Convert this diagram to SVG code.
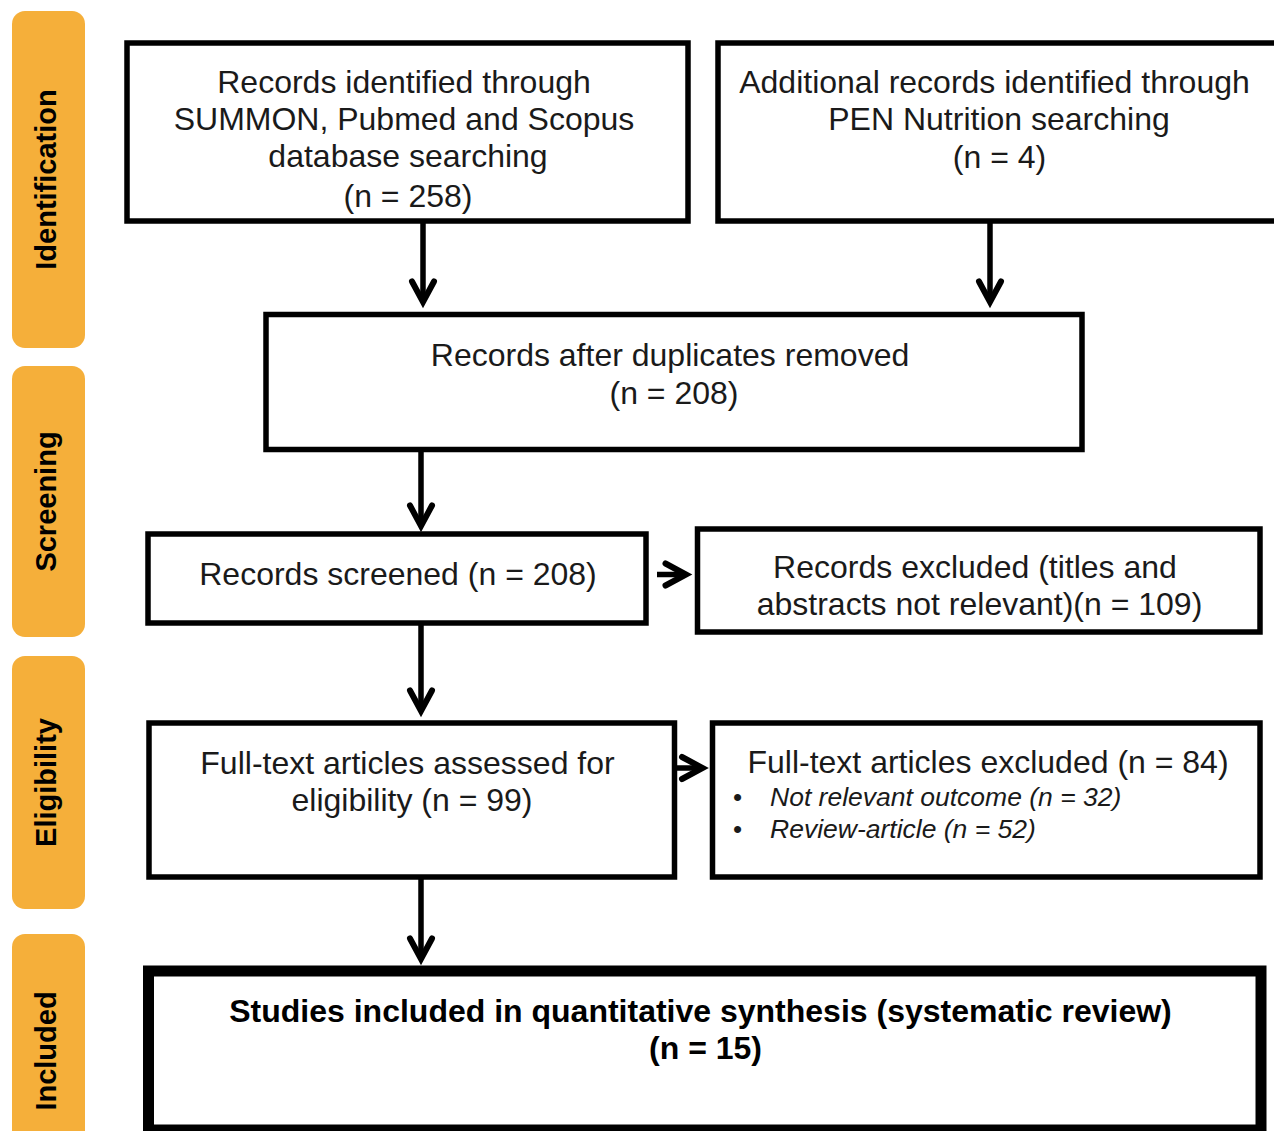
<svg xmlns="http://www.w3.org/2000/svg" width="1274" height="1131" viewBox="0 0 1274 1131">
<style>
.band{fill:#F5AF3A}
.lbl{font-family:"Liberation Sans",Arial,sans-serif;font-weight:bold;font-size:29px;fill:#000;text-anchor:middle}
.box{fill:#fff;stroke:#000;stroke-width:5.5}
.big{fill:#fff;stroke:#000;stroke-width:11}
.t{font-family:"Liberation Sans",Arial,sans-serif;font-size:32px;fill:#1a1a1a;text-anchor:middle}
.b{font-weight:bold;fill:#000}
.it{font-family:"Liberation Sans",Arial,sans-serif;font-size:26.5px;font-style:italic;fill:#1a1a1a}
.bul{font-family:"Liberation Sans",Arial,sans-serif;font-size:26px;fill:#1a1a1a}
.ln{fill:none;stroke:#000;stroke-width:5.5}
</style>
<defs>
<marker id="chev" markerUnits="userSpaceOnUse" viewBox="0 0 40 40" markerWidth="40" markerHeight="40" refX="30" refY="20" orient="auto" overflow="visible">
<path d="M9.5 9 L30 20 L9.5 31" fill="none" stroke="#000" stroke-width="6" stroke-linecap="round" stroke-linejoin="miter"/>
</marker>
</defs>

<g id="phase-identification">
<rect class="band" x="12" y="11" width="73" height="337" rx="13"/>
<text class="lbl" transform="translate(56 179.5) rotate(-90)">Identification</text>
</g>
<g id="phase-screening">
<rect class="band" x="12" y="366" width="73" height="271" rx="13"/>
<text class="lbl" transform="translate(56 501.5) rotate(-90)">Screening</text>
</g>
<g id="phase-eligibility">
<rect class="band" x="12" y="656" width="73" height="253" rx="13"/>
<text class="lbl" transform="translate(56 782.5) rotate(-90)">Eligibility</text>
</g>
<g id="phase-included">
<rect class="band" x="12" y="934" width="73" height="240" rx="13"/>
<text class="lbl" transform="translate(56 1051) rotate(-90)">Included</text>
</g>

<g id="connectors">
<line class="ln" x1="423" y1="221" x2="423" y2="302" marker-end="url(#chev)"/>
<line class="ln" x1="990" y1="221" x2="990" y2="302" marker-end="url(#chev)"/>
<line class="ln" x1="421" y1="449" x2="421" y2="526" marker-end="url(#chev)"/>
<line class="ln" x1="421" y1="625" x2="421" y2="711" marker-end="url(#chev)"/>
<line class="ln" x1="421" y1="877" x2="421" y2="959" marker-end="url(#chev)"/>
<line class="ln" x1="657" y1="574.5" x2="686" y2="574.5" marker-end="url(#chev)"/>
<line class="ln" x1="677" y1="768" x2="702.5" y2="768" marker-end="url(#chev)"/>
</g>

<g id="n1">
<rect class="box" x="127" y="43" width="561" height="178"/>
<text class="t" x="404" y="93">Records identified through</text>
<text class="t" x="404" y="130">SUMMON, Pubmed and Scopus</text>
<text class="t" x="408" y="167">database searching</text>
<text class="t" x="408" y="207">(n = 258)</text>
</g>
<g id="n2">
<rect class="box" x="718" y="43" width="600" height="178"/>
<text class="t" x="994.5" y="93">Additional records identified through</text>
<text class="t" x="999" y="130">PEN Nutrition searching</text>
<text class="t" x="999.5" y="168">(n = 4)</text>
</g>
<g id="n3">
<rect class="box" x="266" y="314.5" width="816" height="135"/>
<text class="t" x="670" y="366">Records after duplicates removed</text>
<text class="t" x="674" y="404">(n = 208)</text>
</g>
<g id="n4">
<rect class="box" x="148" y="534" width="498" height="89"/>
<text class="t" x="398" y="585">Records screened (n = 208)</text>
</g>
<g id="n5">
<rect class="box" x="697.5" y="529" width="562.5" height="103"/>
<text class="t" x="975" y="578">Records excluded (titles and</text>
<text class="t" x="979.5" y="615">abstracts not relevant)(n = 109)</text>
</g>
<g id="n6">
<rect class="box" x="149" y="723" width="525.5" height="154"/>
<text class="t" x="407.5" y="774">Full-text articles assessed for</text>
<text class="t" x="412" y="811">eligibility (n = 99)</text>
</g>
<g id="n7">
<rect class="box" x="712.5" y="723" width="547.5" height="154"/>
<text class="t" x="988" y="773">Full-text articles excluded (n = 84)</text>
<text class="bul" x="733" y="806">•</text>
<text class="it" x="770" y="806">Not relevant outcome (n = 32)</text>
<text class="bul" x="733" y="838">•</text>
<text class="it" x="770" y="838">Review-article (n = 52)</text>
</g>
<g id="n8">
<rect class="big" x="148.5" y="971" width="1112.5" height="159"/>
<text class="t b" x="700.5" y="1022">Studies included in quantitative synthesis (systematic review)</text>
<text class="t b" x="705.5" y="1059">(n = 15)</text>
</g>
</svg>
